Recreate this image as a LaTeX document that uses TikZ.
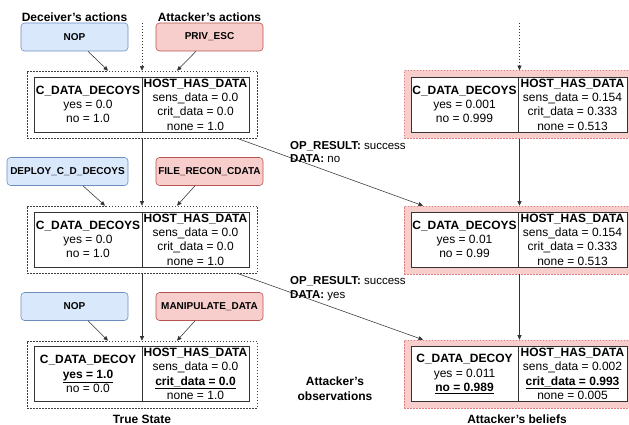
\documentclass[tikz,border=0pt]{standalone}
\usepackage{fontspec}
\setmainfont{Liberation Sans}
\usetikzlibrary{arrows.meta,calc}
\definecolor{bluefill}{HTML}{DAE8FC}
\definecolor{bluedraw}{HTML}{6C8EBF}
\definecolor{redfill}{HTML}{F8CECC}
\definecolor{reddraw}{HTML}{B85450}
\definecolor{pinkdash}{HTML}{E07C7C}
\definecolor{linegray}{HTML}{333333}
\begin{document}
\begin{tikzpicture}[x=1pt,y=-1pt,
  actbox/.style={rounded corners=3.5pt, minimum width=107pt, minimum height=28pt, inner sep=1pt,
    font=\fontsize{10}{12}\selectfont\bfseries, line width=0.6pt},
  deceiver/.style={actbox, fill=bluefill, draw=bluedraw},
  attacker/.style={actbox, fill=redfill, draw=reddraw},
  statebox/.style={draw=black!75, fill=white, dash pattern=on 1.5pt off 1.5pt, minimum width=230pt,
    minimum height=67pt, line width=0.6pt, inner sep=0pt},
  beliefbox/.style={draw=pinkdash, fill=redfill, dash pattern=on 1.5pt off 1.5pt, minimum width=231pt,
    minimum height=68pt, line width=0.6pt, inner sep=0pt},
  cell/.style={draw=black!80, fill=white, line width=0.8pt, minimum height=55pt, inner sep=0pt,
    align=center, font=\fontsize{12}{14.3}\selectfont},
  arr/.style={-{Triangle[length=4.5pt,width=4pt]}, line width=0.55pt, draw=linegray},
  dotarr/.style={arr, dash pattern=on 1.5pt off 1.5pt},
  head/.style={font=\fontsize{12}{14}\selectfont\bfseries, anchor=base, inner sep=0pt},
  obs/.style={font=\fontsize{11.5}{14}\selectfont, anchor=base west, inner sep=0pt}
]
\useasboundingbox (0,0) rectangle (629,425);

% column headers
\node[head] (hd) at (74.5,21.5) {Deceiver's actions};
\node[head] (ha) at (209.5,21.5) {Attacker's actions};

% action boxes
\node[deceiver] (d1) at (74.5,37) {NOP};
\node[attacker] (a1) at (209.5,37) {PRIV\_ESC};
\node[deceiver, minimum width=121pt] (d2) at (67.5,171.5) {DEPLOY\_C\_D\_DECOYS};
\node[attacker] (a2) at (209.5,171.5) {FILE\_RECON\_CDATA};
\node[deceiver] (d3) at (74.5,306.5) {NOP};
\node[attacker] (a3) at (209.5,306.5) {MANIPULATE\_DATA};

% true state boxes
\node[statebox] (s1) at (142,104.5) {};
\node[cell, minimum width=108pt] (s1l) at (88,104.5) {\textbf{C\_DATA\_DECOYS}\\yes = 0.0\\no = 1.0};
\node[cell, minimum width=107pt] (s1r) at (195.5,104.5) {\textbf{HOST\_HAS\_DATA}\\sens\_data = 0.0\\crit\_data = 0.0\\none = 1.0};

\node[statebox] (s2) at (142,239.5) {};
\node[cell, minimum width=108pt] (s2l) at (88,239.5) {\textbf{C\_DATA\_DECOYS}\\yes = 0.0\\no = 1.0};
\node[cell, minimum width=107pt] (s2r) at (195.5,239.5) {\textbf{HOST\_HAS\_DATA}\\sens\_data = 0.0\\crit\_data = 0.0\\none = 1.0};

\node[statebox] (s3) at (142,374.5) {};
\node[cell, minimum width=108pt] (s3l) at (88,374) {\textbf{C\_DATA\_DECOY}\\\underline{\textbf{yes = 1.0}}\\no = 0.0};
\node[cell, minimum width=107pt] (s3r) at (195.5,374) {\textbf{HOST\_HAS\_DATA}\\sens\_data = 0.0\\\underline{\textbf{crit\_data = 0.0}}\\none = 1.0};

% belief boxes
\node[beliefbox] (b1) at (519.5,104.5) {};
\node[cell, minimum width=107pt] (b1l) at (464.5,104.5) {\textbf{C\_DATA\_DECOYS}\\yes = 0.001\\no = 0.999};
\node[cell, minimum width=109pt] (b1r) at (572.5,104.5) {\textbf{HOST\_HAS\_DATA}\\sens\_data = 0.154\\crit\_data = 0.333\\none = 0.513};

\node[beliefbox] (b2) at (519.5,240) {};
\node[cell, minimum width=107pt] (b2l) at (464.5,239.5) {\textbf{C\_DATA\_DECOYS}\\yes = 0.01\\no = 0.99};
\node[cell, minimum width=109pt] (b2r) at (572.5,239.5) {\textbf{HOST\_HAS\_DATA}\\sens\_data = 0.154\\crit\_data = 0.333\\none = 0.513};

\node[beliefbox] (b3) at (519.5,374) {};
\node[cell, minimum width=107pt] (b3l) at (464.5,374) {\textbf{C\_DATA\_DECOY}\\yes = 0.011\\\underline{\textbf{no = 0.989}}};
\node[cell, minimum width=109pt] (b3r) at (572.5,374) {\textbf{HOST\_HAS\_DATA}\\sens\_data = 0.002\\\underline{\textbf{crit\_data = 0.993}}\\none = 0.005};

% action arrows
\draw[arr] ($(d1.south)+(13.5,0)$) -- ($(s1.north)+(-34,0)$);
\draw[arr] ($(a1.south)+(-13.5,0)$) -- ($(s1.north)+(35,0)$);
\draw[arr] ($(d2.south)+(15.5,0)$) -- ($(s2.north)+(-37,0)$);
\draw[arr] ($(a2.south)+(-14.5,0)$) -- ($(s2.north)+(35,0)$);
\draw[arr] ($(d3.south)+(13.5,0)$) -- ($(s3.north)+(-34,0)$);
\draw[arr] ($(a3.south)+(-14.5,0)$) -- ($(s3.north)+(35,0)$);

% incoming dotted
\coordinate (t1) at (142,23);
\coordinate (t2) at (519.5,23);
\draw[dotarr] (t1) -- (s1.north);
\draw[dotarr] (t2) -- (b1.north);

% state transitions
\draw[arr] (s1.south) -- (s2.north);
\draw[arr] (s2.south) -- (s3.north);
\draw[arr] (b1.south) -- (b2.north);
\draw[arr] (b2.south) -- (b3.north);

% observations
\draw[arr] ($(s1.south)+(95,0)$) -- ($(b2.north)+(-96.5,0)$);
\draw[arr] ($(s2.south)+(95,0)$) -- ($(b3.north)+(-96.5,0)$);
\node[obs] (o1a) at (290,149.5) {\textbf{OP\_RESULT:} success};
\node[obs] (o1b) at (290,163) {\textbf{DATA:} no};
\node[obs] (o2a) at (290,284.5) {\textbf{OP\_RESULT:} success};
\node[obs] (o2b) at (290,298) {\textbf{DATA:} yes};

% captions
\node[head] (obs1) at (335,385) {Attacker's};
\node[head] (obs2) at (335,400) {observations};
\node[head] (ts) at (142,423.5) {True State};
\node[head] (ab) at (517,423.5) {Attacker's beliefs};
\end{tikzpicture}
\end{document}
